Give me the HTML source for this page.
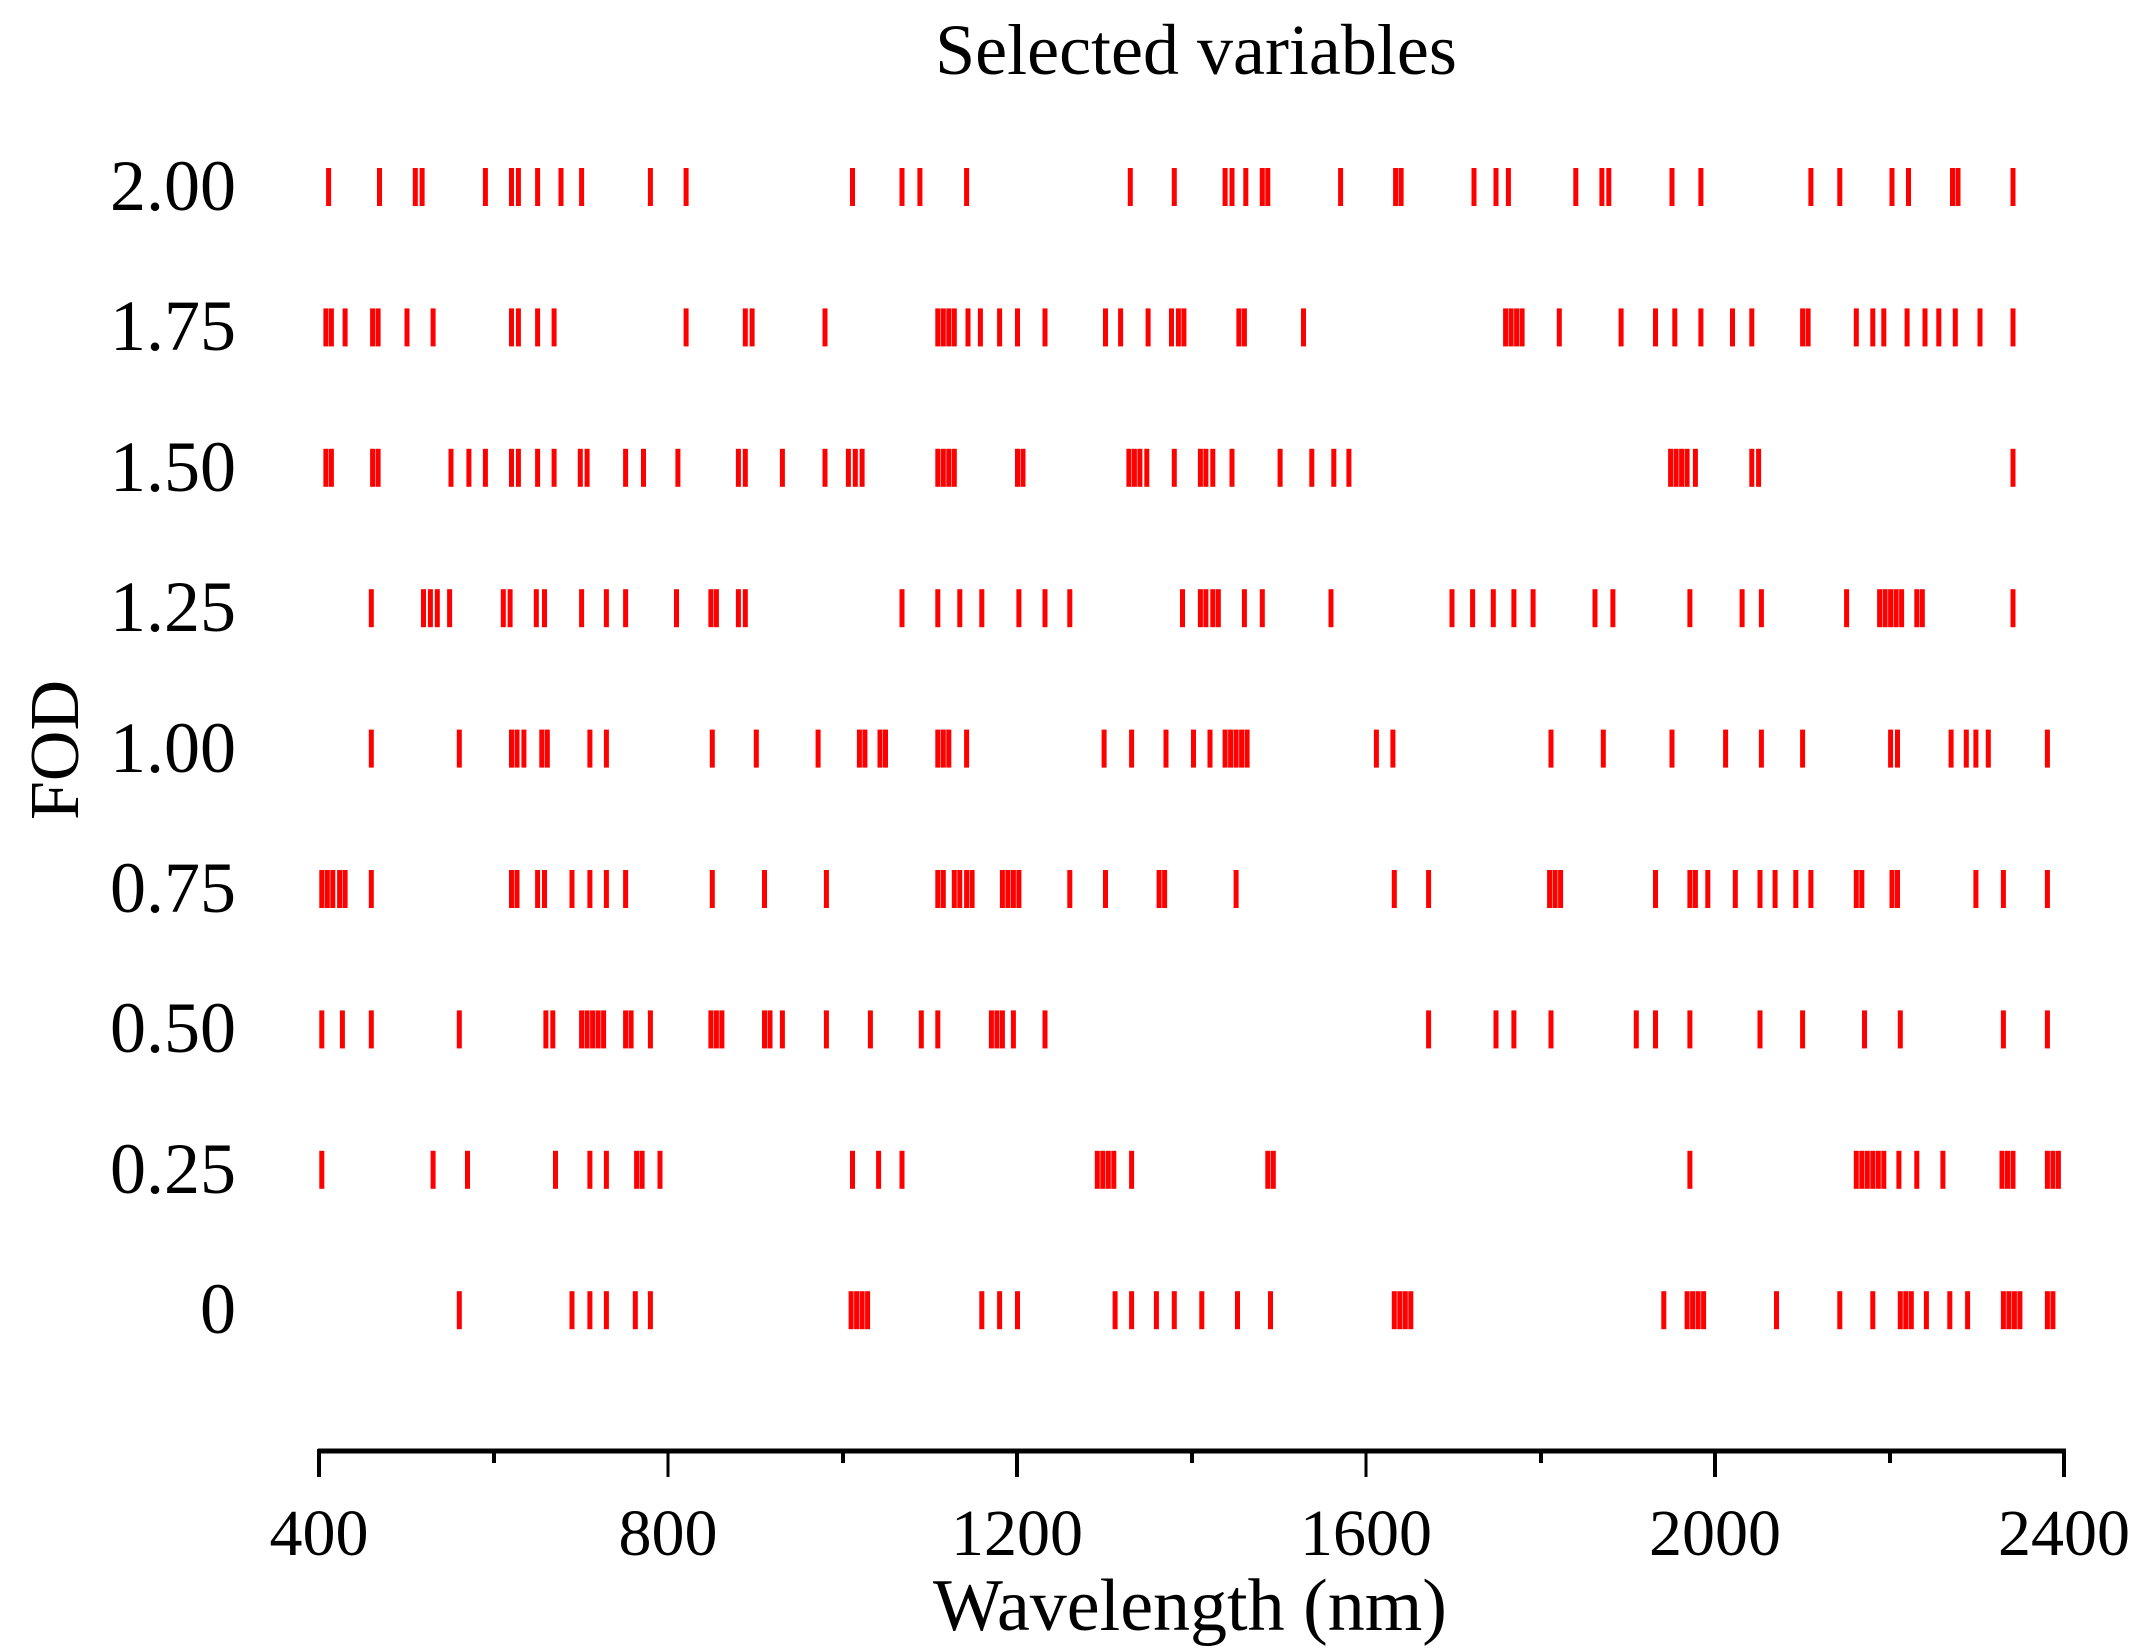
<!DOCTYPE html>
<html><head><meta charset="utf-8"><style>
html,body{margin:0;padding:0;background:#fff;}
svg{display:block;}
text{font-family:"Liberation Serif",serif;fill:#000;}
</style></head><body>
<svg id="s" width="2149" height="1649" viewBox="0 0 2149 1649" xmlns="http://www.w3.org/2000/svg">
<rect width="2149" height="1649" fill="#fff"/>
<text x="1196" y="74" font-size="72" text-anchor="middle">Selected variables</text>
<g font-size="72" text-anchor="end">
<text x="236" y="210">2.00</text>
<text x="236" y="350">1.75</text>
<text x="236" y="491">1.50</text>
<text x="236" y="631">1.25</text>
<text x="236" y="772">1.00</text>
<text x="236" y="912">0.75</text>
<text x="236" y="1052">0.50</text>
<text x="236" y="1193">0.25</text>
<text x="236" y="1333">0</text>
</g>
<text transform="translate(78,750) rotate(-90)" font-size="70" text-anchor="middle">FOD</text>
<g stroke="#000">
<line x1="318" y1="1451" x2="2066" y2="1451" stroke-width="5"/>
<line x1="319" y1="1449" x2="319" y2="1477" stroke-width="4"/>
<line x1="668" y1="1449" x2="668" y2="1477" stroke-width="3"/>
<line x1="1017" y1="1449" x2="1017" y2="1477" stroke-width="4"/>
<line x1="1366" y1="1449" x2="1366" y2="1477" stroke-width="3"/>
<line x1="1715" y1="1449" x2="1715" y2="1477" stroke-width="4"/>
<line x1="2064" y1="1449" x2="2064" y2="1477" stroke-width="4"/>
<line x1="494" y1="1449" x2="494" y2="1463" stroke-width="4"/>
<line x1="843" y1="1449" x2="843" y2="1463" stroke-width="4"/>
<line x1="1192" y1="1449" x2="1192" y2="1463" stroke-width="4"/>
<line x1="1541" y1="1449" x2="1541" y2="1463" stroke-width="4"/>
<line x1="1890" y1="1449" x2="1890" y2="1463" stroke-width="4"/>
</g>
<g font-size="66" text-anchor="middle">
<text x="319" y="1555">400</text>
<text x="668" y="1555">800</text>
<text x="1017" y="1555">1200</text>
<text x="1366" y="1555">1600</text>
<text x="1715" y="1555">2000</text>
<text x="2064" y="1555">2400</text>
</g>
<text x="1190" y="1630" font-size="74" text-anchor="middle">Wavelength (nm)</text>
<g id="m" fill="#ff0000"></g>
</svg>
<script>
var rows=[
[239,276,302,307,353,372,377,391,408,423,473,499,620,656,669,703,822,854,891,896,906,918,922,975,1015,1019,1072,1088,1097,1146,1165,1170,1216,1237,1317,1338,1376,1388,1420,1424,1464],
[237,241,251,271,275,296,315,372,377,391,403,499,542,547,600,682,686,690,694,704,713,727,740,760,804,815,835,852,857,861,901,905,948,1095,1099,1103,1107,1134,1179,1204,1218,1237,1260,1274,1311,1315,1350,1362,1370,1387,1400,1410,1422,1440,1464],
[237,241,271,275,328,341,353,372,377,391,403,422,427,455,468,493,537,542,569,600,617,622,627,682,686,690,694,740,744,821,825,829,834,854,873,877,882,896,931,954,970,981,1215,1219,1223,1227,1233,1274,1279,1464],
[270,308,313,318,327,366,371,390,396,423,441,455,492,517,521,537,542,656,682,698,714,741,760,778,860,873,877,882,886,905,918,968,1056,1071,1086,1101,1115,1160,1173,1229,1267,1281,1343,1367,1371,1375,1379,1383,1394,1398,1464],
[270,334,372,376,381,394,398,429,441,518,550,595,625,629,640,644,682,686,690,703,803,823,848,868,880,891,895,899,903,907,1001,1013,1128,1166,1216,1255,1281,1311,1375,1380,1419,1430,1437,1446,1489],
[234,238,242,247,251,270,372,376,391,396,416,429,441,455,518,556,601,682,686,694,698,703,707,729,733,737,741,778,804,843,847,899,1014,1039,1127,1131,1135,1204,1229,1233,1242,1262,1280,1291,1306,1317,1350,1354,1376,1380,1437,1457,1489],
[234,249,270,334,397,402,423,427,431,435,439,455,459,473,517,521,525,556,560,569,601,633,670,682,721,725,729,737,760,1039,1088,1101,1128,1190,1204,1229,1280,1311,1356,1382,1457,1489],
[234,315,340,404,429,441,463,467,480,620,639,656,798,802,806,810,823,922,926,1229,1350,1354,1358,1362,1366,1370,1381,1394,1413,1456,1460,1464,1489,1493,1497],
[334,416,429,441,462,473,619,623,627,631,714,727,740,811,823,841,854,874,900,924,1014,1018,1022,1026,1210,1227,1231,1235,1239,1292,1338,1362,1382,1386,1390,1401,1418,1431,1457,1461,1465,1469,1489,1493]
];
var g=document.getElementById('m'),h='';
rows.forEach(function(r,i){var yc=187+i*140.4;r.forEach(function(x){h+='<rect x="'+(x*1.375-2.5).toFixed(1)+'" y="'+(yc-19).toFixed(1)+'" width="5" height="38"/>';});});
g.innerHTML=h;
</script>
</body></html>
